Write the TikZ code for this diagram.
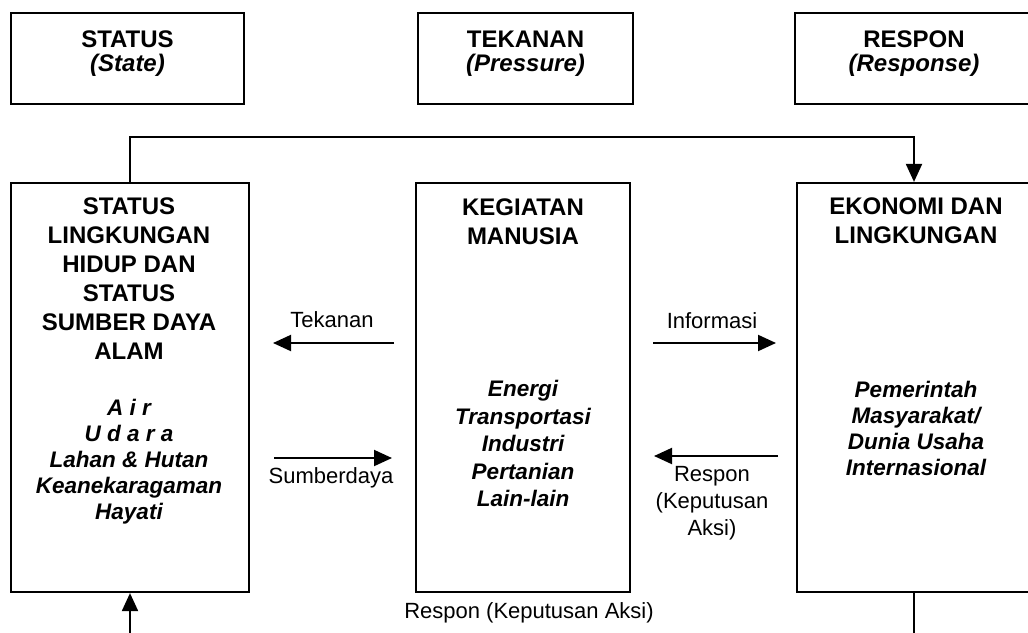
\documentclass[tikz,border=0pt]{standalone}
\usepackage{fontspec}
\setmainfont{Liberation Sans}
\usetikzlibrary{arrows.meta}
\begin{document}
\begin{tikzpicture}[x=1pt,y=-1pt,
  box/.style={draw=black,line width=2.2pt,inner sep=0pt},
  hd/.style={font=\fontsize{24}{29}\selectfont\bfseries,align=center,inner sep=0pt,anchor=north},
  tophd/.style={font=\fontsize{24}{23.5}\selectfont\bfseries,align=center,inner sep=0pt,anchor=north},
  itl/.style={font=\fontsize{22.5}{26}\selectfont\bfseries\itshape,align=center,inner sep=0pt,anchor=north},
  lbl/.style={font=\fontsize{22}{27}\selectfont,align=center,inner sep=0pt},
  conn/.style={line width=2pt},
  arr/.style={conn,-{Triangle[length=18pt,width=16pt]}}]
\useasboundingbox (0,0) rectangle (1028,632);
\fill[white] (0,0) rectangle (1028,632);

% top boxes
\node[box,minimum width=233pt,minimum height=91pt] (ts) at (127.5,58.5) {};
\node[box,minimum width=215pt,minimum height=91pt] (tt) at (525.5,58.5) {};
\node[box,minimum width=238pt,minimum height=91pt] (tr) at (914,58.5) {};
\node[tophd] (tstxt) at (ts.center |- 0,31) {STATUS\\\itshape (State)};
\node[tophd] (tttxt) at (tt.center |- 0,31) {TEKANAN\\\itshape (Pressure)};
\node[tophd] (trtxt) at (914,31) {RESPON\\\itshape (Response)};

% main boxes
\node[box,minimum width=238pt,minimum height=409pt] (L) at (130,387.5) {};
\node[box,minimum width=214pt,minimum height=409pt] (M) at (523,387.5) {};
\node[box,minimum width=234pt,minimum height=409pt] (R) at (914,387.5) {};

\node[hd] (Lt) at (129,198) {STATUS\\LINGKUNGAN\\HIDUP DAN\\STATUS\\SUMBER DAYA\\ALAM};
\node[itl] (Li) at (129,399) {A i r\\U d a r a\\Lahan \& Hutan\\Keanekaragaman\\Hayati};
\node[hd] (Mt) at (523,199) {KEGIATAN\\MANUSIA};
\node[itl,font=\fontsize{22.5}{27.5}\selectfont\bfseries\itshape] (Mi) at (523,380) {Energi\\Transportasi\\Industri\\Pertanian\\Lain-lain};
\node[hd] (Rt) at (916,198) {EKONOMI DAN\\LINGKUNGAN};
\node[itl] (Ri) at (916,381) {Pemerintah\\Masyarakat/\\Dunia Usaha\\Internasional};

% loop connectors
\draw[arr] (L.north) -- ++(0,-45) -| (R.north);
\draw[arr] (R.south) -- ++(0,60) -| (L.south);

% horizontal arrows
\coordinate (a1s) at (394,343); \coordinate (a1e) at (273,343);
\coordinate (a2s) at (274,458); \coordinate (a2e) at (392,458);
\coordinate (a3s) at (653,343); \coordinate (a3e) at (776,343);
\coordinate (a4s) at (778,456); \coordinate (a4e) at (654,456);
\draw[arr] (a1s) -- (a1e);
\draw[arr] (a2s) -- (a2e);
\draw[arr] (a3s) -- (a3e);
\draw[arr] (a4s) -- (a4e);

\node[lbl] (l1) at (332,320) {Tekanan};
\node[lbl] (l2) at (331,478) {Sumberdaya};
\node[lbl] (l3) at (712,321) {Informasi};
\node[lbl] (l4) at (712,503) {Respon\\(Keputusan\\Aksi)};
\node[lbl] (l5) at (529,613) {Respon (Keputusan Aksi)};
\end{tikzpicture}
\end{document}
